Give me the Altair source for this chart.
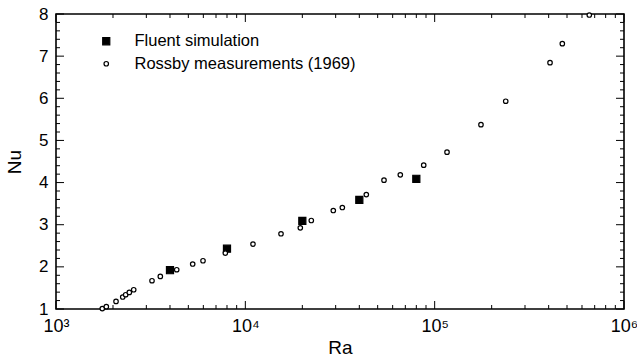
import altair as alt
import pandas as pd

# ---- data ----
series_names = ["Fluent simulation", "Rossby measurements (1969)"]

fluent_ra = [4000, 8000, 20000, 40000, 80000]
fluent_nu = [1.92, 2.43, 3.09, 3.59, 4.09]

rossby_ra = [1756, 1844, 2075, 2251, 2334, 2439, 2573, 3214, 3556, 4341,
             5272, 5976, 7839, 10977, 15431, 19513, 22304, 29147, 32535,
             43548, 54002, 65836, 87522, 116200, 175600, 237300, 406700,
             472300, 655600]
rossby_nu = [1.01, 1.055, 1.18, 1.284, 1.339, 1.393, 1.457, 1.671, 1.773,
             1.932, 2.067, 2.145, 2.327, 2.541, 2.785, 2.927, 3.10, 3.337,
             3.408, 3.716, 4.058, 4.183, 4.413, 4.721, 5.375, 5.930, 6.845,
             7.295, 7.976]

x_major = [1e3, 1e4, 1e5, 1e6]
x_labels = ["10³", "10⁴", "10⁵", "10⁶"]
x_minor = [2e3, 3e3, 4e3, 5e3, 6e3, 7e3, 8e3, 9e3,
           2e4, 3e4, 4e4, 5e4, 6e4, 7e4, 8e4, 9e4,
           2e5, 3e5, 4e5, 5e5, 6e5, 7e5, 8e5, 9e5]
y_major = [1, 2, 3, 4, 5, 6, 7, 8]
y_minor = [1.2, 1.4, 1.6, 1.8, 2.2, 2.4, 2.6, 2.8, 3.2, 3.4, 3.6, 3.8,
           4.2, 4.4, 4.6, 4.8, 5.2, 5.4, 5.6, 5.8, 6.2, 6.4, 6.6, 6.8,
           7.2, 7.4, 7.6, 7.8]

# ---- tables ----
df = pd.DataFrame({
    "Ra": fluent_ra + rossby_ra,
    "Nu": fluent_nu + rossby_nu,
    "series": [series_names[0]] * len(fluent_ra) + [series_names[1]] * len(rossby_ra),
})
xmaj = pd.DataFrame({"Ra": x_major})
xmin = pd.DataFrame({"Ra": x_minor})
ymaj = pd.DataFrame({"Nu": y_major})
ymin = pd.DataFrame({"Nu": y_minor})

W, H = 568, 295
FONT = "Liberation Sans"
MAJ, MIN = 8, 4

xs = alt.Scale(type="log", domain=[1e3, 1e6], nice=False)
ys = alt.Scale(domain=[1, 8], nice=False, zero=False)

label_expr = " : ".join(
    f"datum.value == {v:g} ? '{l}'" for v, l in zip(x_major, x_labels)
) + " : ''"

x_axis = alt.Axis(values=x_major, labelExpr=label_expr, ticks=False, domain=False,
                  grid=False, title="Ra", labelFontSize=18, titleFontSize=19,
                  labelPadding=8, titlePadding=3, labelColor="black",
                  titleColor="black", labelFont=FONT, titleFont=FONT,
                  titleFontWeight="normal", labelFlush=False)
y_axis = alt.Axis(values=y_major, format="d", ticks=False, domain=False, grid=False,
                  title="Nu", labelFontSize=17, titleFontSize=19, labelPadding=8,
                  titlePadding=14, labelColor="black", titleColor="black",
                  labelFont=FONT, titleFont=FONT, titleFontWeight="normal")

X = alt.X("Ra:Q", scale=xs, axis=x_axis)
Y = alt.Y("Nu:Q", scale=ys, axis=y_axis)

def xrule(data, y0, y1):
    return alt.Chart(data).mark_rule(color="black", strokeWidth=1).encode(
        x=X, y=alt.value(y0), y2=alt.value(y1))

def yrule(data, x0, x1):
    return alt.Chart(data).mark_rule(color="black", strokeWidth=1).encode(
        y=Y, x=alt.value(x0), x2=alt.value(x1))

ticks = [
    xrule(xmaj, H, H - MAJ), xrule(xmin, H, H - MIN),
    xrule(xmaj, 0, MAJ), xrule(xmin, 0, MIN),
    yrule(ymaj, 0, MAJ), yrule(ymin, 0, MIN),
    yrule(ymaj, W, W - MAJ), yrule(ymin, W, W - MIN),
]

leg = alt.Legend(title=None, orient="none", legendX=42, legendY=19, padding=0,
                 labelFontSize=16.5, labelFont=FONT, labelColor="black",
                 labelOffset=20, rowPadding=5.5, labelLimit=400,
                 symbolStrokeWidth=1.2)

points = alt.Chart(df).mark_point(filled=True, opacity=1, strokeWidth=1.2).encode(
    x=X, y=Y,
    shape=alt.Shape("series:N", scale=alt.Scale(domain=series_names, range=["square", "circle"]), legend=leg),
    fill=alt.Fill("series:N", scale=alt.Scale(domain=series_names, range=["black", "white"]), legend=leg),
    stroke=alt.Stroke("series:N", scale=alt.Scale(domain=series_names, range=["black", "black"]), legend=leg),
    size=alt.Size("series:N", scale=alt.Scale(domain=series_names, range=[50, 20]), legend=leg),
)

chart = alt.layer(*ticks, points).properties(
    width=W, height=H,
    autosize=alt.AutoSizeParams(type="none"),
    padding={"left": 56, "top": 14, "right": 13, "bottom": 52},
    background="white",
).configure_view(stroke="black", strokeWidth=1.6)

chart.save("out.html", embed_options={"renderer": "svg", "actions": False})
